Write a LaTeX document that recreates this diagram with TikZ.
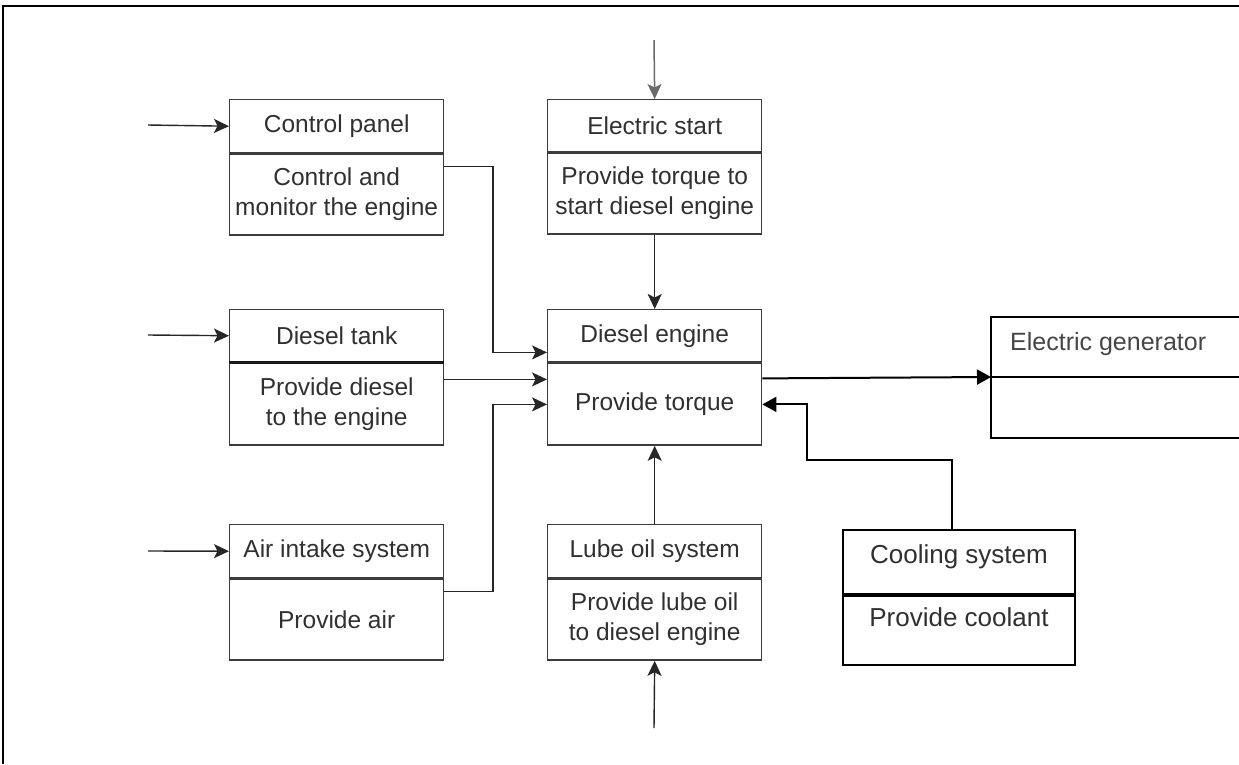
\documentclass[tikz,border=0pt]{standalone}
\usepackage{fontspec}
\setmainfont{Liberation Sans}
\usetikzlibrary{arrows.meta,calc}
\definecolor{boxline}{HTML}{3C3C3C}
\definecolor{txt}{HTML}{303030}
\definecolor{gentxt}{HTML}{454545}
\definecolor{arrgray}{HTML}{6A6A6A}
\begin{document}
\begin{tikzpicture}[x=1pt,y=-1pt,
  box/.style={draw=boxline, line width=1.4pt, minimum width=214pt, text=txt,
    font=\fontsize{24.5}{30}\selectfont, align=center, inner sep=0pt, anchor=north west},
  bbox/.style={draw=black, line width=2pt, minimum width=232pt, text=txt,
    font=\fontsize{26}{31}\selectfont, align=center, inner sep=0pt, anchor=north west},
  arr/.style={draw=black!85, line width=1.4pt, -{Stealth[length=15pt,width=14pt,inset=3.5pt]}},
  grayarr/.style={draw=arrgray, line width=1.5pt, -{Stealth[length=15pt,width=14pt,inset=3.5pt]}},
  garr/.style={draw=black, line width=2pt, -{Triangle[length=14pt,width=15pt]}}]
\useasboundingbox (0,0) rectangle (1239,764);
% outer frame (only left and top visible)
\draw[line width=2.5pt] (3,764) -- (3,6) -- (1239,6);

% Control panel
\node[box, minimum height=53pt] (cpT) at (229,99) {Control panel};
\node[box, minimum height=81pt] (cpB) at (cpT.south west) {Control and\\monitor the engine};
% Electric start
\node[box, minimum height=52pt] (esT) at (547,99) {Electric start};
\node[box, minimum height=81pt] (esB) at (esT.south west) {Provide torque to\\start diesel engine};
% Diesel tank
\node[box, minimum height=52pt] (dtT) at (229,309) {Diesel tank};
\node[box, minimum height=82pt] (dtB) at (dtT.south west) {Provide diesel\\to the engine};
\draw[line width=2.2pt, draw=black!90] (dtT.south west) -- (dtT.south east);
% Diesel engine
\node[box, minimum height=52pt] (deT) at (547,309) {Diesel engine};
\node[box, minimum height=82pt] (deB) at (deT.south west) {Provide torque};
% Air intake
\node[box, minimum height=53pt] (aiT) at (229,524) {Air intake system};
\node[box, minimum height=81pt] (aiB) at (aiT.south west) {Provide air};
% Lube oil
\node[box, minimum height=53pt] (loT) at (547,524) {Lube oil system};
\node[box, minimum height=81pt] (loB) at (loT.south west) {Provide lube oil\\to diesel engine};
% Cooling system
\node[bbox, minimum height=64pt, text depth=16pt] (csT) at (842,529) {Cooling system};
\node[bbox, minimum height=69pt, text depth=26pt] (csB) at (csT.south west) {Provide coolant};
% Electric generator (open on the right)
\draw[line width=2pt] (1239,317) -- (991,317) -- (991,438) -- (1239,438)
  (991,377) -- (1239,377);
\node[anchor=west, text=gentxt, font=\fontsize{25}{30}\selectfont, inner sep=0pt] (genT) at (1010,344) {Electric generator};
\coordinate (genIn) at (991,377);

% free input ends
\coordinate (cpIn) at (148,125);
\coordinate (dtIn) at (148,335);
\coordinate (aiIn) at (148,551);
\coordinate (esIn) at (654,40);
\coordinate (loIn) at (654,728);

% connectors
\draw[arr] (cpIn) -- (cpT.west);
\draw[arr] (dtIn) -- (dtT.west);
\draw[arr] (aiIn) -- (aiT.west);
\draw[grayarr] (esIn) -- (esT.north);
\draw[arr] (esB.south) -- (deT.north);
\draw[arr] (loT.north) -- (deB.south);
\draw[arr] (loIn) -- (loB.south);
\draw[arr] ($(cpB.north east)+(0,13)$) -| ($(deT.south west)+(-54,-10)$) -- ($(deT.south west)+(0,-10)$);
\draw[arr] ($(dtB.north east)+(0,17)$) -- ($(deB.north west)+(0,17)$);
\draw[arr] ($(aiB.north east)+(0,13)$) -| ($(deB.north west)+(-54,42)$) -- ($(deB.north west)+(0,42)$);
\draw[garr] ($(deB.north east)+(0,16)$) -- (genIn);
\draw[garr] ($(csT.north west)+(110,0)$) -- ++(0,-69) -| ($(deB.north east)+(45,42)$) -- ($(deB.north east)+(0,42)$);
\end{tikzpicture}
\end{document}
